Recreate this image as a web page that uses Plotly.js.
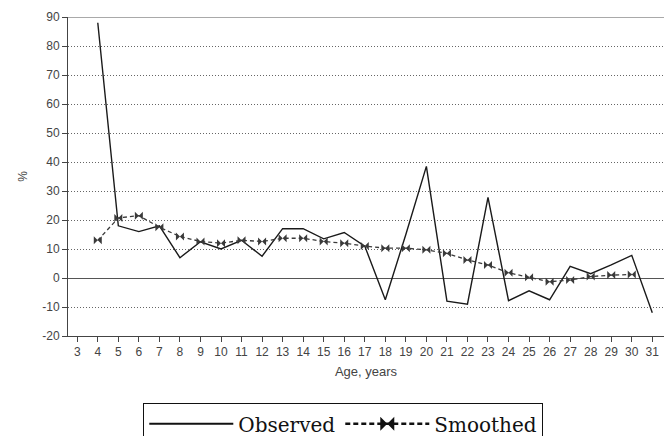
<!DOCTYPE html>
<html>
<head>
<meta charset="utf-8">
<script src="https://cdn.plot.ly/plotly-3.0.1.min.js"></script>
<style>
html,body{margin:0;padding:0;background:#fff;}
#chart{width:664px;height:436px;}
</style>
</head>
<body>
<div id="chart"></div>
<script>
var ages = [3,4,5,6,7,8,9,10,11,12,13,14,15,16,17,18,19,20,21,22,23,24,25,26,27,28,29,30,31];
var observed = [null,88,18,16,18,7,12.5,10,13,7.5,17,17,13.5,15.7,11,-7.5,15,38.5,-8,-9,27.8,-7.8,-4.4,-7.5,4,1.5,4.5,7.8,-12];
var smoothed = [null,13,20.7,21.5,17.5,14.3,12.6,12,13,12.6,13.7,13.7,12.6,12,11,10.3,10.3,9.7,8.5,6.2,4.5,1.8,0.3,-1.3,-0.7,0.5,1,1.2,null];
var yTicks = [-20,-10,0,10,20,30,40,50,60,70,80,90];
var yTickText = ['-20','-10','0','10','20','30','40','50','60','70','80','90'];

var traces = [
  {x: ages, y: observed, name: 'Observed', type: 'scatter', mode: 'lines',
   line: {color: '#1a1a1a', width: 1.4}, connectgaps: false, showlegend: false},
  {x: ages, y: smoothed, name: 'Smoothed', type: 'scatter', mode: 'lines+markers',
   line: {color: '#3a3a3a', width: 1.3, dash: '4px,3px'},
   marker: {symbol: 'bowtie', size: 8, color: '#3a3a3a'}, showlegend: false},
  {x: [null], y: [null], name: 'Observed', type: 'scatter', mode: 'lines',
   line: {color: '#111', width: 2}},
  {x: [null], y: [null], name: 'Smoothed', type: 'scatter', mode: 'lines+markers',
   line: {color: '#111', width: 2.5, dash: '5px,3px'},
   marker: {symbol: 'bowtie', size: 14, color: '#111'}}
];

var layout = {
  width: 664, height: 436,
  margin: {l: 68, r: 0, t: 17, b: 100},
  paper_bgcolor: '#fff', plot_bgcolor: '#fff',
  font: {family: '"Liberation Sans", Arial, sans-serif', size: 12, color: '#444'},
  showlegend: true,
  legend: {
    orientation: 'h', xref: 'container', yref: 'container',
    x: 0.517, xanchor: 'center', y: 0.075, yanchor: 'top',
    bordercolor: '#111', borderwidth: 1, bgcolor: '#fff',
    font: {family: '"DejaVu Serif", "Liberation Serif", serif', size: 20, color: '#111'},
    itemwidth: 84, tracegroupgap: 0, traceorder: 'normal'
  },
  xaxis: {
    range: [2.55, 31.57], tickmode: 'array', tickvals: ages, ticktext: ages.map(String),
    showgrid: false, zeroline: false, showline: true, linecolor: '#444', linewidth: 1,
    ticks: 'outside', ticklen: 5, tickcolor: '#444',
    tickfont: {size: 12, color: '#444'},
    title: {text: 'Age, years', font: {size: 13, color: '#444'}, standoff: 8}
  },
  yaxis: {
    range: [-20, 90], tickmode: 'array', tickvals: yTicks, ticktext: yTickText,
    showgrid: true, gridcolor: '#666', griddash: '1px,2px', gridwidth: 1,
    zeroline: true, zerolinecolor: '#555', zerolinewidth: 1,
    showline: true, linecolor: '#444', linewidth: 1,
    ticks: 'outside', ticklen: 5, tickcolor: '#444',
    tickfont: {size: 12, color: '#444'},
    title: {text: '%', font: {size: 12, color: '#444'}, standoff: 12}
  },
  shapes: [
    {type: 'line', xref: 'paper', yref: 'y', x0: 0, x1: 1, y0: 90, y1: 90,
     line: {color: '#555', width: 1}}
  ]
};

Plotly.newPlot('chart', traces, layout, {staticPlot: true, displayModeBar: false});
</script>
</body>
</html>
